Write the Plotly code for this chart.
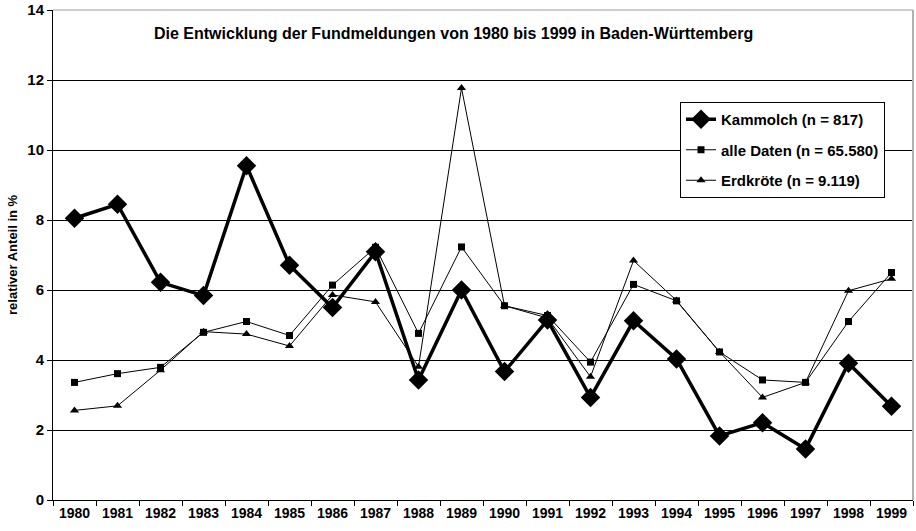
import plotly.graph_objects as go

years = [str(y) for y in range(1980, 2000)]
kammolch = [8.05, 8.45, 6.22, 5.84, 9.55, 6.71, 5.50, 7.09, 3.43, 6.00,
            3.67, 5.14, 2.93, 5.12, 4.03, 1.83, 2.21, 1.46, 3.91, 2.68]
alle_daten = [3.36, 3.61, 3.79, 4.79, 5.10, 4.70, 6.14, 7.22, 4.76, 7.23,
              5.55, 5.27, 3.94, 6.16, 5.69, 4.23, 3.43, 3.36, 5.10, 6.50]
erdkroete = [2.56, 2.69, 3.71, 4.81, 4.74, 4.40, 5.86, 5.66, 3.81, 11.77,
             5.55, 5.20, 3.52, 6.84, 5.70, 4.23, 2.93, 3.36, 5.98, 6.32]
y_ticks = [0, 2, 4, 6, 8, 10, 12, 14]

title_text = "Die Entwicklung der Fundmeldungen von 1980 bis 1999 in Baden-Württemberg"
y_title = "relativer Anteil in %"
names = ["Kammolch (n = 817)", "alle Daten (n = 65.580)", "Erdkröte (n = 9.119)"]

FONT = "Liberation Sans, Arial, sans-serif"

fig = go.Figure()
fig.add_trace(go.Scatter(
    x=years, y=kammolch, name=names[0], mode="lines+markers", legendgroup="a",
    line=dict(color="black", width=3.5),
    marker=dict(symbol="diamond", size=15, color="black")))
fig.add_trace(go.Scatter(
    x=years, y=alle_daten, name=names[1], mode="lines+markers", legendgroup="b",
    line=dict(color="black", width=1),
    marker=dict(symbol="square", size=7, color="black")))
fig.add_trace(go.Scatter(
    x=years, y=erdkroete, name=names[2], mode="lines+markers", legendgroup="c",
    line=dict(color="black", width=1),
    marker=dict(symbol="triangle-up", size=8, color="black")))

fig.update_layout(
    width=916, height=531,
    margin=dict(l=53, r=3, t=10, b=31),
    paper_bgcolor="white", plot_bgcolor="white",
    font=dict(family=FONT, color="black", size=13),
    showlegend=True,
    legend=dict(
        x=(680 - 53) / 860, y=(500 - 102) / 490, xanchor="left", yanchor="top",
        bordercolor="black", borderwidth=1, bgcolor="white",
        font=dict(family=FONT, size=15, color="black", weight="bold"),
        tracegroupgap=8, itemsizing="trace",
    ),
    annotations=[
        dict(text="<b>" + title_text + "</b>", xref="paper", yref="paper",
             x=(453 - 53) / 860, y=(500 - 33) / 490, xanchor="center", yanchor="middle",
             showarrow=False, font=dict(family=FONT, size=16, color="black")),
        dict(text="<b>" + y_title + "</b>", xref="paper", yref="paper",
             x=-(53 - 12) / 860, y=0.5, xanchor="center", yanchor="middle",
             textangle=-90, showarrow=False,
             font=dict(family=FONT, size=13, color="black")),
    ],
    shapes=[
        dict(type="line", xref="paper", yref="paper", x0=0, x1=1, y0=1, y1=1,
             line=dict(color="#9a9a9a", width=1)),
        dict(type="line", xref="paper", yref="paper", x0=1, x1=1, y0=0, y1=1,
             line=dict(color="#b0b0b0", width=2)),
    ],
)

fig.update_xaxes(
    type="category", range=[-0.5, 19.5], automargin=False,
    showline=True, linecolor="black", linewidth=1,
    ticks="outside", tickson="boundaries", ticklen=5, tickcolor="black",
    showgrid=False,
    tickfont=dict(family=FONT, size=14, color="black", weight="bold"),
)
fig.update_yaxes(
    range=[0, 14], tickvals=y_ticks, automargin=False,
    showline=True, linecolor="black", linewidth=1,
    ticks="outside", ticklen=5, tickcolor="black",
    showgrid=True, gridcolor="black", gridwidth=1, zeroline=False,
    tickfont=dict(family=FONT, size=15, color="black", weight="bold"),
)

fig.write_html(
    "out.html",
    config={"displayModeBar": False},
    post_script="document.body.style.margin='0';document.body.style.overflow='hidden';",
)
